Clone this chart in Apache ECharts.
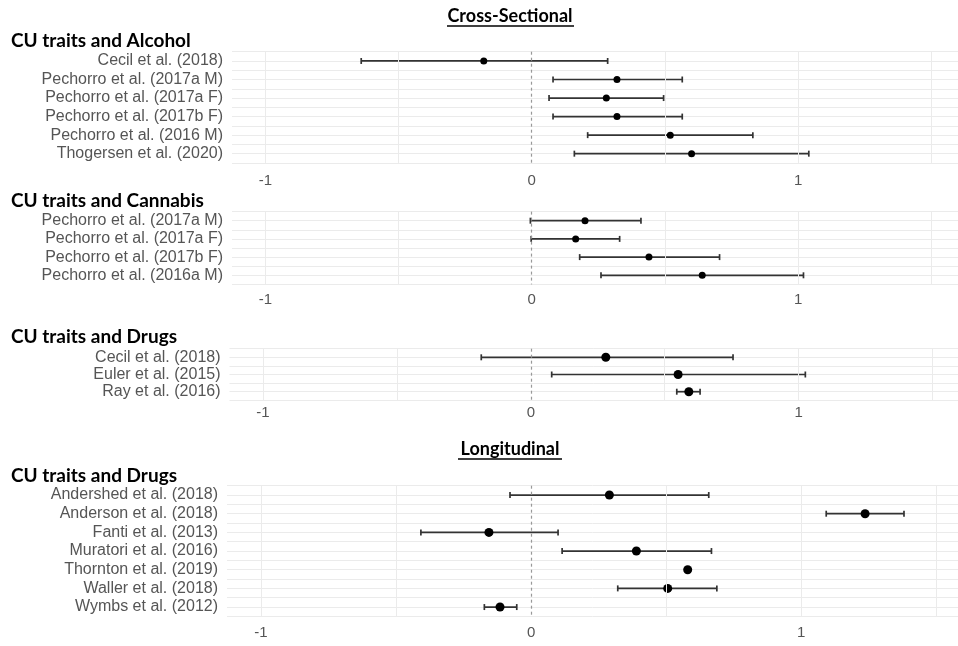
<!DOCTYPE html>
<html>
<head>
<meta charset="utf-8">
<script src="https://cdn.jsdelivr.net/npm/echarts@6/dist/echarts.min.js"></script>
<style>
  html, body { margin: 0; padding: 0; background: #fff; }
  #chart { width: 958px; height: 646px; }
</style>
</head>
<body>
<div id="chart"></div>
<script>
// cross-sectional: alcohol
const alcoholStudies = ['Cecil et al. (2018)', 'Pechorro et al. (2017a M)', 'Pechorro et al. (2017a F)',
  'Pechorro et al. (2017b F)', 'Pechorro et al. (2016 M)', 'Thogersen et al. (2020)'];
const alcoholEst = [-0.18, 0.32, 0.28, 0.32, 0.52, 0.60];
const alcoholLow = [-0.64, 0.08, 0.065, 0.08, 0.21, 0.16];
const alcoholHigh = [0.285, 0.565, 0.495, 0.565, 0.83, 1.04];

// cross-sectional: cannabis
const cannabisStudies = ['Pechorro et al. (2017a M)', 'Pechorro et al. (2017a F)',
  'Pechorro et al. (2017b F)', 'Pechorro et al. (2016a M)'];
const cannabisEst = [0.20, 0.165, 0.44, 0.64];
const cannabisLow = [-0.005, -0.002, 0.18, 0.26];
const cannabisHigh = [0.41, 0.33, 0.705, 1.02];

// cross-sectional: drugs
const drugsStudies = ['Cecil et al. (2018)', 'Euler et al. (2015)', 'Ray et al. (2016)'];
const drugsEst = [0.28, 0.55, 0.59];
const drugsLow = [-0.185, 0.078, 0.545];
const drugsHigh = [0.755, 1.025, 0.632];

// longitudinal: drugs
const longStudies = ['Andershed et al. (2018)', 'Anderson et al. (2018)', 'Fanti et al. (2013)',
  'Muratori et al. (2016)', 'Thornton et al. (2019)', 'Waller et al. (2018)', 'Wymbs et al. (2012)'];
const longEst = [0.29, 1.237, -0.156, 0.39, 0.58, 0.506, -0.115];
const longLow = [-0.078, 1.093, -0.408, 0.115, 0.58, 0.321, -0.173];
const longHigh = [0.658, 1.381, 0.10, 0.668, 0.58, 0.688, -0.053];

const xTicks = [-1, 0, 1];
const xGridLines = [-1, -0.5, 0.5, 1, 1.5];

const panels = [
  { title: 'CU traits and Alcohol', names: alcoholStudies, est: alcoholEst, lo: alcoholLow, hi: alcoholHigh,
    top: 51.7, row: 18.54, left: 232, min: -1.125, max: 1.6, dot: 7, tickGap: 10 },
  { title: 'CU traits and Cannabis', names: cannabisStudies, est: cannabisEst, lo: cannabisLow, hi: cannabisHigh,
    top: 211.6, row: 18.2, left: 232, min: -1.125, max: 1.6, dot: 7, tickGap: 7.5 },
  { title: 'CU traits and Drugs', names: drugsStudies, est: drugsEst, lo: drugsLow, hi: drugsHigh,
    top: 348.7, row: 17.2, left: 229.5, min: -1.125, max: 1.595, dot: 9, tickGap: 5 },
  { title: 'CU traits and Drugs', names: longStudies, est: longEst, lo: longLow, hi: longHigh,
    top: 485.7, row: 18.67, left: 227, min: -1.126, max: 1.581, dot: 9, tickGap: 9 }
];
const panelTitleY = [42, 202, 338, 477];

const labelFont = 'Liberation Sans, Arial, sans-serif';
const headFont = 'Lato, Carlito, sans-serif';

function renderBar(params, api) {
  const y = api.value(2);
  const a = api.coord([api.value(0), y]);
  const b = api.coord([api.value(1), y]);
  const cap = 3;
  const st = { stroke: '#333', lineWidth: 1.7 };
  return {
    type: 'group',
    children: [
      { type: 'line', shape: { x1: a[0], y1: a[1], x2: b[0], y2: b[1] }, style: st },
      { type: 'line', shape: { x1: a[0], y1: a[1] - cap, x2: a[0], y2: a[1] + cap }, style: st },
      { type: 'line', shape: { x1: b[0], y1: b[1] - cap, x2: b[0], y2: b[1] + cap }, style: st }
    ]
  };
}

const grid = [], xAxis = [], yAxis = [], series = [], graphic = [];

panels.forEach((p, i) => {
  const n = p.names.length;
  grid.push({ left: p.left, right: 0, top: p.top, height: n * p.row });
  xAxis.push({
    type: 'value', gridIndex: i, min: p.min, max: p.max,
    axisLine: { show: false }, axisTick: { show: false }, splitLine: { show: false },
    axisLabel: { customValues: xTicks, color: '#555', fontSize: 15, fontFamily: labelFont, margin: p.tickGap }
  });
  yAxis.push({
    type: 'value', gridIndex: i, inverse: true, min: 0.5, max: n + 0.5, interval: 0.5,
    axisLine: { show: false }, axisTick: { show: false },
    splitLine: { lineStyle: { color: '#ebebeb', width: 1 } },
    axisLabel: {
      color: '#555', fontSize: 16, fontFamily: labelFont, margin: 9,
      showMinLabel: false, showMaxLabel: false,
      formatter: v => Number.isInteger(v) ? p.names[v - 1] : ''
    }
  });
  // vertical guide lines and the zero reference
  series.push({
    type: 'line', xAxisIndex: i, yAxisIndex: i, data: [], z: 1, silent: true,
    markLine: {
      silent: true, symbol: 'none', animation: false, label: { show: false },
      data: xGridLines.map(v => ({ xAxis: v, lineStyle: { color: '#ebebeb', width: 1, type: 'solid' } }))
        .concat([{ xAxis: 0, lineStyle: { color: '#999', width: 1.2, type: [3, 3] } }])
    }
  });
  series.push({
    type: 'custom', xAxisIndex: i, yAxisIndex: i, z: 3, silent: true,
    renderItem: renderBar, encode: { x: [0, 1], y: 2 },
    data: p.names.map((_, k) => [p.lo[k], p.hi[k], k + 1])
  });
  series.push({
    type: 'scatter', xAxisIndex: i, yAxisIndex: i, z: 4, silent: true,
    symbolSize: p.dot, itemStyle: { color: '#000', opacity: 1 },
    data: p.names.map((_, k) => [p.est[k], k + 1])
  });
  graphic.push({
    type: 'text', left: 11, top: panelTitleY[i] - 11,
    style: { text: p.title, font: 'bold 19px ' + headFont, fill: '#000' }
  });
});

// section headings with underline
[['Cross-Sectional', 16], ['Longitudinal', 449]].forEach(([t, y]) => {
  graphic.push({
    type: 'text', x: 510, y: y,
    style: { text: t, font: 'bold 18px ' + headFont, fill: '#000', textAlign: 'center', textVerticalAlign: 'middle' }
  });
});
graphic.push({ type: 'line', shape: { x1: 447, y1: 26, x2: 574, y2: 26 }, style: { stroke: '#000', lineWidth: 1.5 } });
graphic.push({ type: 'line', shape: { x1: 458, y1: 459, x2: 562, y2: 459 }, style: { stroke: '#000', lineWidth: 1.5 } });

const chart = echarts.init(document.getElementById('chart'));
chart.setOption({
  backgroundColor: '#fff',
  animation: false,
  grid, xAxis, yAxis, series, graphic
});
</script>
</body>
</html>
